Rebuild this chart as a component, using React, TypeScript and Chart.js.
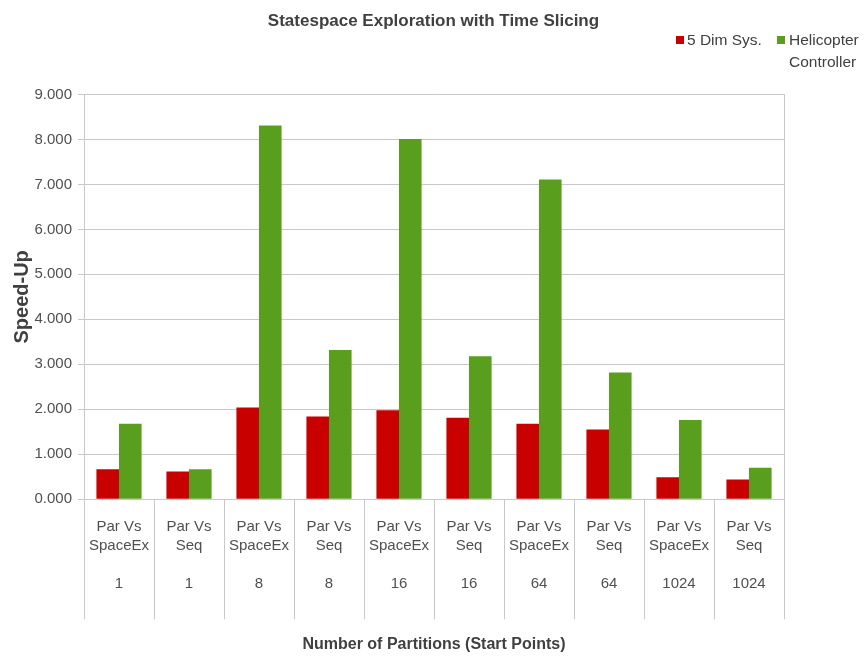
import React, { useEffect, useRef } from "react";
import { Chart, registerables } from "chart.js";

Chart.register(...registerables);

const comparisons = ["Par Vs SpaceEx", "Par Vs Seq", "Par Vs SpaceEx", "Par Vs Seq", "Par Vs SpaceEx", "Par Vs Seq", "Par Vs SpaceEx", "Par Vs Seq", "Par Vs SpaceEx", "Par Vs Seq"];
const partitions = ["1", "1", "8", "8", "16", "16", "64", "64", "1024", "1024"];
const dimSys = [0.67, 0.62, 2.04, 1.84, 1.98, 1.81, 1.68, 1.55, 0.49, 0.44];
const heliCtrl = [1.68, 0.67, 8.31, 3.32, 8.01, 3.18, 7.11, 2.82, 1.76, 0.70];
const yTicks = [0, 1, 2, 3, 4, 5, 6, 7, 8, 9];

const RED = "#C80000";
const GREEN = "#5A9E1E";
const SANS = "'Liberation Sans', Arial, sans-serif";

export default function App() {
  const ref = useRef<HTMLCanvasElement | null>(null);

  useEffect(() => {
    if (!ref.current) return;
    const labels = comparisons.map((c, i) => {
      const parts = c.split(" ");
      return [parts.slice(0, 2).join(" "), parts.slice(2).join(" "), "", partitions[i]];
    });
    const chart = new Chart(ref.current, {
      type: "bar",
      data: {
        labels,
        datasets: [
          { label: "5 Dim Sys.", data: dimSys, backgroundColor: RED, borderWidth: 0 },
          { label: "Helicopter Controller", data: heliCtrl, backgroundColor: GREEN, borderWidth: 0 },
        ],
      },
      options: {
        animation: false,
        responsive: false,
        maintainAspectRatio: false,
        layout: { padding: { left: 0, right: 0, top: 0, bottom: 0 } },
        datasets: { bar: { categoryPercentage: 0.645, barPercentage: 1 } },
        plugins: {
          legend: { display: false },
          tooltip: { enabled: false },
          title: {
            display: true,
            text: "Statespace Exploration with Time Slicing",
            font: { family: SANS, size: 17, weight: "bold" },
            color: "#404040",
            padding: { top: 11, bottom: 63 },
          },
        },
        scales: {
          x: {
            grid: { drawOnChartArea: false, drawTicks: true, tickLength: 120, color: "#C8C8C8" },
            border: { display: true, color: "#C8C8C8" },
            ticks: {
              autoSkip: false,
              maxRotation: 0,
              minRotation: 0,
              padding: -102,
              color: "#505050",
              font: { family: SANS, size: 15, lineHeight: "19px" },
            },
            title: {
              display: true,
              text: "Number of Partitions (Start Points)",
              font: { family: SANS, size: 16, weight: "bold" },
              color: "#404040",
              padding: { top: 0, bottom: 6 },
            },
            afterFit: (s: any) => { s.height = 660 - 499.3; },
          },
          y: {
            min: 0,
            max: 9,
            afterBuildTicks: (s: any) => { s.ticks = yTicks.map((v) => ({ value: v })); },
            grid: { color: "#C8C8C8", tickLength: 6, drawTicks: true },
            border: { display: true, color: "#C8C8C8" },
            ticks: {
              padding: 6,
              color: "#505050",
              font: { family: SANS, size: 15 },
              callback: (v: any) => Number(v).toFixed(3),
            },
            title: {
              display: true,
              text: "Speed-Up",
              font: { family: SANS, size: 20, weight: "bold" },
              color: "#404040",
              padding: { top: 10, bottom: 0 },
            },
            afterFit: (s: any) => { s.width = 84; },
          },
          y2: {
            position: "right",
            min: 0,
            max: 9,
            grid: { drawOnChartArea: false, drawTicks: false },
            border: { display: true, color: "#C8C8C8" },
            ticks: { display: false },
            afterFit: (s: any) => { s.width = 83; },
          },
        },
      },
    } as any);
    return () => chart.destroy();
  }, []);

  const legendText: React.CSSProperties = {
    position: "absolute",
    fontFamily: SANS,
    fontSize: 15.5,
    color: "#404040",
    lineHeight: "22px",
  };

  return (
    <div style={{ position: "fixed", left: 0, top: 0, width: 867, height: 660, background: "#fff" }}>
      <canvas ref={ref} width={867} height={660} style={{ display: "block" }} />
      <div style={{ position: "absolute", left: 676, top: 36, width: 8, height: 8, background: RED }} />
      <div style={{ ...legendText, left: 687, top: 29 }}>5 Dim Sys.</div>
      <div style={{ position: "absolute", left: 777, top: 36, width: 8, height: 8, background: GREEN }} />
      <div style={{ ...legendText, left: 789, top: 29 }}>Helicopter<br />Controller</div>
    </div>
  );
}
